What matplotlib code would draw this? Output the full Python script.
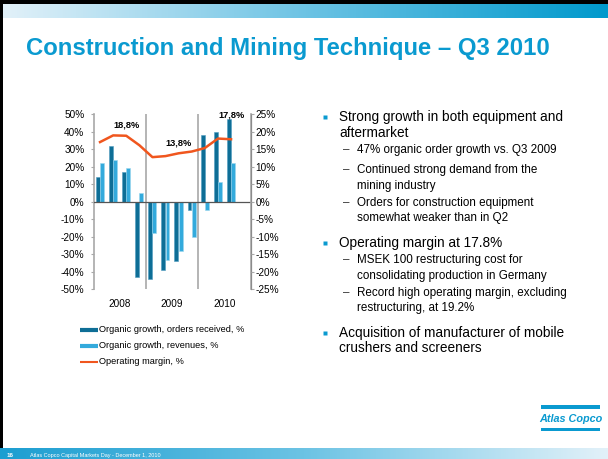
import numpy as np
import matplotlib
matplotlib.use("Agg")
import matplotlib.pyplot as plt
from matplotlib.colors import LinearSegmentedColormap

plt.rcParams['font.family'] = ['Liberation Sans', 'DejaVu Sans']

# data
quarters = ['Q1 08', 'Q2 08', 'Q3 08', 'Q4 08', 'Q1 09', 'Q2 09', 'Q3 09', 'Q4 09',
            'Q1 10', 'Q2 10', 'Q3 10']
orders = [14, 32, 17, -43, -44, -39, -34, -5, 38, 40, 47]
revenues = [22, 24, 19, 5, -18, -33, -28, -20, -5, 11, 22]
margin = [17.0, 18.9, 18.8, 16.1, 12.7, 13.0, 13.8, 14.3, 15.3, 18.0, 17.8]
years = ['2008', '2009', '2010']
margin_labels = {2: '18,8%', 6: '13,8%', 10: '17,8%'}

bullets = [
    ('main', 'Strong growth in both equipment and', 116.7),
    ('cont', 'aftermarket', 133.3),
    ('sub', '47% organic order growth vs. Q3 2009', 150),
    ('sub', 'Continued strong demand from the', 170),
    ('subc', 'mining industry', 186),
    ('sub', 'Orders for construction equipment', 202.7),
    ('subc', 'somewhat weaker than in Q2', 218.3),
    ('main', 'Operating margin at 17.8%', 243.3),
    ('sub', 'MSEK 100 restructuring cost for', 260.5),
    ('subc', 'consolidating production in Germany', 275.5),
    ('sub', 'Record high operating margin, excluding', 293.3),
    ('subc', 'restructuring, at 19.2%', 308.3),
    ('main', 'Acquisition of manufacturer of mobile', 333.3),
    ('cont', 'crushers and screeners', 348.3),
]

dark = '#0E6E96'
light = '#33AADC'
orange = '#F0561E'
blue = '#0A9AD0'
grey = '#A8A8A8'

fig = plt.figure(figsize=(6.08, 4.59), dpi=100)

# slide background in pixel coords
bg = fig.add_axes([0, 0, 1, 1])
bg.set_xlim(0, 608)
bg.set_ylim(459, 0)
bg.axis('off')

grad = np.linspace(0, 1, 256).reshape(1, -1)
top_cm = LinearSegmentedColormap.from_list('top', ['#E2F1F9', '#6CC3E4', '#0099CC'])
bot_cm = LinearSegmentedColormap.from_list('bot', ['#1C9ED1', '#6CC3E4', '#E2F1F9'])
bg.imshow(grad, cmap=top_cm, extent=(3, 608, 18, 4), aspect='auto')
bg.imshow(grad, cmap=bot_cm, extent=(0, 608, 459, 448), aspect='auto')
bg.fill_between([0, 608], 0, 4, color='black', lw=0)
bg.fill_between([0, 3], 0, 448, color='black', lw=0)

bg.text(26, 48, 'Construction and Mining Technique \u2013 Q3 2010', fontsize=17.2,
        fontweight='bold', color=blue, va='center', ha='left')

# footer
bg.text(7, 455.5, '16', fontsize=4.5, fontweight='bold', color='white', va='center')
bg.text(30, 455.5, 'Atlas Copco Capital Markets Day - December 1, 2010', fontsize=4,
        color='white', va='center')

# logo
bg.fill_between([541, 600], 405, 408.5, color=blue, lw=0)
bg.fill_between([541, 600], 427.5, 431, color=blue, lw=0)
bg.text(571, 419.5, 'Atlas Copco', fontsize=7.8, fontweight='bold', style='italic',
        color=blue, ha='center', va='center')

# bullets
for kind, txt, y in bullets:
    if kind == 'main':
        bg.plot(325, y, marker='s', ms=3.2, color=blue, mec='none')
    if kind in ('main', 'cont'):
        bg.text(339, y, txt, fontsize=9.8, color='black', va='center')
    else:
        if kind == 'sub':
            bg.text(343, y, '\u2013', fontsize=8.4, color='#333333', va='center')
        bg.text(357, y, txt, fontsize=8.4, color='black', va='center')

# legend
leg_items = [('bar', dark, 'Organic growth, orders received, %', 330),
             ('bar', light, 'Organic growth, revenues, %', 345.5),
             ('line', orange, 'Operating margin, %', 361.5)]
for kind, col, txt, y in leg_items:
    if kind == 'bar':
        bg.plot([80, 98], [y, y], color=col, lw=3, solid_capstyle='butt')
    else:
        bg.plot([80, 98], [y, y], color=col, lw=1.5, solid_capstyle='butt')
    bg.text(99, y, txt, fontsize=6.7, color='black', va='center')

# chart
ax = fig.add_axes([93.5 / 608, 1 - 289.4 / 459, 157.2 / 608, 175.4 / 459])
ax.patch.set_alpha(0)
x = np.arange(len(quarters))
ax.bar(x - 0.17, orders, 0.3, color=dark, edgecolor='#4F9CC0', lw=0.4, zorder=3)
ax.bar(x + 0.15, revenues, 0.3, color=light, edgecolor='#9AD6EE', lw=0.4, zorder=3)
ax.set_xlim(-0.5, 11.5)
ax.set_ylim(-50, 50)
ax.set_yticks(np.arange(-50, 51, 10))
ax.set_yticklabels([f'{v}%' for v in range(-50, 51, 10)])
ax.axhline(0, color='#555555', lw=0.9, zorder=4)
for sx in (3.5, 7.5):
    ax.axvline(sx, color=grey, lw=1.2, zorder=2)
ax.set_xticks([1.5, 5.5, 9.5])
ax.set_xticklabels(years)
ax.tick_params(axis='x', length=0, pad=7, labelsize=7.2)
ax.tick_params(axis='y', length=2, color=grey, pad=4.5, labelsize=7.2)
for s in ('top', 'bottom'):
    ax.spines[s].set_visible(False)
ax.spines['left'].set_color(grey)
ax.spines['left'].set_linewidth(1.2)

ax2 = ax.twinx()
ax2.plot(x, margin, color=orange, lw=1.8, zorder=5)
ax2.set_ylim(-25, 25)
ax2.set_yticks(np.arange(-25, 26, 5))
ax2.set_yticklabels([f'{v}%' for v in range(-25, 26, 5)])
ax2.tick_params(axis='y', length=2, color=grey, pad=1.6, labelsize=7.2)
for s in ('top', 'bottom', 'left'):
    ax2.spines[s].set_visible(False)
ax2.spines['right'].set_color(grey)
ax2.spines['right'].set_linewidth(1.2)
label_y = {2: 21.9, 6: 16.7, 10: 24.8}
for i, lab in margin_labels.items():
    ax2.text(i, label_y[i], lab, fontsize=6.7, fontweight='bold', ha='center', va='center')

fig.savefig('out.png', dpi=100)
